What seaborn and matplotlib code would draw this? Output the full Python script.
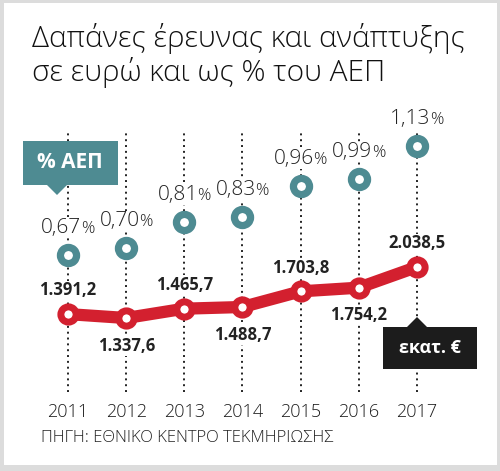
"""R&D spending in euro and as % of GDP, Greece 2011-2017."""

import matplotlib.pyplot as plt
import matplotlib.patches as mpatches
import seaborn as sns

years = [2011, 2012, 2013, 2014, 2015, 2016, 2017]
spend_meur = [1391.2, 1337.6, 1465.7, 1488.7, 1703.8, 1754.2, 2038.5]
gdp_pct = [0.67, 0.70, 0.81, 0.83, 0.96, 0.99, 1.13]
label_above = [True, False, True, False, True, False, True]

title_lines = ["Δαπάνες έρευνας και ανάπτυξης", "σε ευρώ και ως % του ΑΕΠ"]
source = "ΠΗΓΗ: ΕΘΝΙΚΟ ΚΕΝΤΡΟ ΤΕΚΜΗΡΙΩΣΗΣ"

RED = "#d3202f"
TEAL = "#4e8b92"
INK = "#222222"
W, H = 500, 471

sns.set_theme(style="white")
plt.rcParams["font.family"] = ["Open Sans", "DejaVu Sans"]


def fpx(x, y):
    """Top-left pixel -> figure fraction."""
    return x / W, 1 - y / H


fig = plt.figure(figsize=(W / 100, H / 100), dpi=100, facecolor="#dcdcdc")
fig.patches.append(mpatches.Rectangle(fpx(4, 465), 493 / W, 462 / H, transform=fig.transFigure,
                                      facecolor="white", edgecolor="none", zorder=-10))

# plot area spans the dotted guides (y 130..392 px)
ax = fig.add_axes([0, 1 - 392 / H, 1, 262 / H])
ax.patch.set_visible(False)
ax2 = ax.twinx()
for a in (ax, ax2):
    for s in a.spines.values():
        s.set_visible(False)
    a.tick_params(length=0)
    a.grid(False)

ax.set_xlim(2009.83, 2018.43)
ax.set_ylim(320.7, 3921.1)
ax2.set_ylim(0.0918, 1.1975)
ax2.set_yticks([])
ax.set_yticks([])
ax.set_xticks(years)
ax.set_xticklabels([str(y) for y in years], fontsize=13, fontweight="light", color="#1e1e1e")
ax.tick_params(axis="x", pad=8)

for yr in years:
    ax.plot([yr, yr], [0, 1], transform=ax.get_xaxis_transform(), color="#222222",
            lw=1.4, ls=(0, (1, 2)), zorder=1)

sns.lineplot(x=years, y=spend_meur, ax=ax, color=RED, lw=8.8, marker="o", ms=11,
             mfc="white", mec=RED, mew=5, zorder=4, clip_on=False)
sns.scatterplot(x=years, y=gdp_pct, ax=ax2, s=135, color="white", edgecolor=TEAL,
                linewidth=5.2, zorder=4, clip_on=False)

for yr, v, up in zip(years, spend_meur, label_above):
    txt = f"{v:,.1f}".replace(",", " ").replace(".", ",").replace(" ", ".")
    ax.annotate(txt, (yr, v), xytext=(0, 17 if up else -20), textcoords="offset points",
                ha="center", va="center", fontsize=12, fontweight="bold", color=INK,
                bbox=dict(boxstyle="square,pad=0.05", fc="white", ec="none"), zorder=3)

# percent labels: small % sign, whole label centred over the ring
renderer = fig.canvas.get_renderer()
for yr, v in zip(years, gdp_pct):
    num = f"{v:.2f}".replace(".", ",")
    t_num = ax2.annotate(num, (yr, v), xytext=(0, 16), textcoords="offset points",
                         ha="right", va="baseline", fontsize=15, fontweight="light",
                         color=INK, zorder=3,
                         bbox=dict(boxstyle="square,pad=0.0", fc="white", ec="none"))
    t_pct = ax2.annotate("%", (yr, v), xytext=(0, 16), textcoords="offset points",
                         ha="left", va="baseline", fontsize=12, fontweight="light",
                         color=INK, zorder=3)
    wn = t_num.get_window_extent(renderer).width * 0.72
    wp = t_pct.get_window_extent(renderer).width * 0.72
    d = (wn - wp) / 2
    t_num.set_position((d, 16))
    t_pct.set_position((d - 0.3, 16))

# legend call-outs
fig.patches.append(mpatches.Rectangle(fpx(23, 185), 95 / W, 44 / H, transform=fig.transFigure,
                                      facecolor=TEAL, edgecolor="none", zorder=5))
fig.patches.append(mpatches.Polygon([fpx(46, 184), fpx(68, 184), fpx(57, 195)],
                                    transform=fig.transFigure, facecolor=TEAL,
                                    edgecolor="none", zorder=5))
fig.text(*fpx(70, 163), "% ΑΕΠ", ha="center", va="center", fontsize=15,
         fontweight="bold", color="white", zorder=6)

fig.patches.append(mpatches.Rectangle(fpx(383, 369), 94 / W, 42 / H, transform=fig.transFigure,
                                      facecolor="#1c1c1c", edgecolor="none", zorder=5))
fig.patches.append(mpatches.Polygon([fpx(406, 328), fpx(428, 328), fpx(417, 317)],
                                    transform=fig.transFigure, facecolor="#1c1c1c",
                                    edgecolor="none", zorder=5))
fig.text(*fpx(430, 348), "εκατ. €", ha="center", va="center", fontsize=13,
         fontweight="bold", color="white", zorder=6)

fig.text(*fpx(32, 47), title_lines[0], ha="left", va="baseline", fontsize=21.5,
         fontweight="light", color="#111111")
fig.text(*fpx(32, 81), title_lines[1], ha="left", va="baseline", fontsize=21.5,
         fontweight="light", color="#111111")
fig.text(*fpx(41, 438), source, ha="left", va="center", fontsize=12,
         fontweight="light", color="#222222")

plt.savefig("out.png", dpi=100, facecolor=fig.get_facecolor())
plt.close()
